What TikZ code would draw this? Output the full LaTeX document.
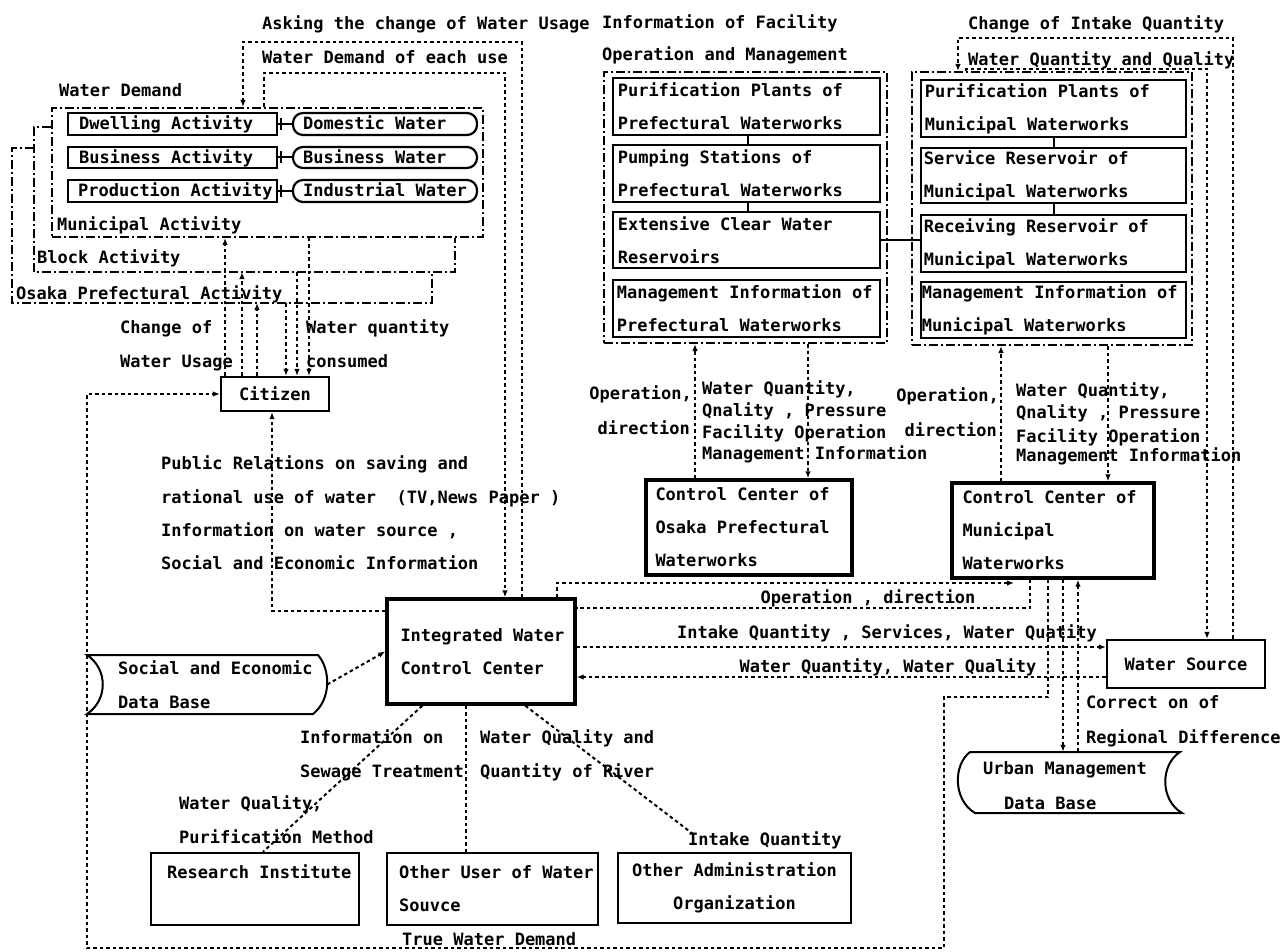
\documentclass[tikz,border=0pt]{standalone}
\usepackage{fontspec}
\newfontfamily\dmono{DejaVu Sans Mono}
\usetikzlibrary{arrows.meta,fit,calc}
\newcommand\txtfont{\dmono\bfseries\fontsize{17}{33}\selectfont}

\begin{document}
\begin{tikzpicture}[x=1pt,y=-1pt,
  txt/.style={font=\txtfont, inner sep=0pt},
  lbl/.style={txt, anchor=base west},
  lblr/.style={txt, anchor=base east},
  lblc/.style={txt, anchor=base},
  inbox/.style={txt, anchor=west, align=left},
  frame/.style={inner sep=0pt},
  sbox/.style={frame, draw, line width=2.2pt},
  gbox/.style={frame, draw, line width=2.8pt},
  tbox/.style={frame, draw, line width=3.4pt},
  rbox/.style={sbox, rounded corners=10pt},
  dashdot/.style={line width=2pt, dash pattern=on 9pt off 3pt on 2pt off 3pt},
  conn/.style={line width=2pt, dash pattern=on 3.5pt off 3pt},
  solidln/.style={line width=2pt},
  tip/.style={-{Latex[length=7pt,width=5.5pt]}},
]
\useasboundingbox[fill=white] (0,0) rectangle (1288,952);

% ---------------- headings along the top ----------------
\node[lbl] (tAsk) at (262,30) {Asking the change of Water Usage};
\node[lbl] (tInfo) at (602,29) {Information of Facility};
\node[lbl] (tChg) at (968,30) {Change of Intake Quantity};
\node[lbl] (tWde) at (262,64) {Water Demand of each use};
\node[lbl] (tOpm) at (602,61) {Operation and Management};
\node[lbl] (tWqq) at (968,66) {Water Quantity and Quality};
\node[lbl] (tWd) at (59,97) {Water Demand};

% ---------------- activities and water demand ----------------
\node[frame, draw, dashdot, fit={(52,108) (483,237)}] (mun) {};
\node[lbl] (tMun) at (57,231) {Municipal Activity};
\node[lbl] (tBlk) at (37,264) {Block Activity};
\node[lbl] (tOsk) at (16,299) {Osaka Prefectural Activity};

\node[sbox, fit={(68,113) (277,135)}] (dwell) {};
\node[sbox, fit={(68,147) (277,168)}] (busa) {};
\node[sbox, fit={(68,180) (277,202)}] (proda) {};
\node[rbox, fit={(293,113) (477,135)}] (dom) {};
\node[rbox, fit={(293,147) (477,168)}] (busw) {};
\node[rbox, fit={(293,180) (477,202)}] (ind) {};
\node[lbl] (dwellT) at ([xshift=12pt,yshift=-6pt]dwell.west) {Dwelling Activity};
\node[lbl] (busaT) at ([xshift=12pt,yshift=-6pt]busa.west) {Business Activity};
\node[lbl] (prodaT) at ([xshift=11pt,yshift=-6pt]proda.west) {Production Activity};
\node[lbl] (domT) at ([xshift=11pt,yshift=-6pt]dom.west) {Domestic Water};
\node[lbl] (buswT) at ([xshift=11pt,yshift=-6pt]busw.west) {Business Water};
\node[lbl] (indT) at ([xshift=11pt,yshift=-6pt]ind.west) {Industrial Water};
\foreach \a/\b in {dwell/dom, busa/busw, proda/ind}{
  \draw[solidln] (\a.east) -- (\b.west);
  \draw[solidln] ($(\a.east)+(3,-6)$) -- ++(0,12);
}

% block and prefectural brackets
\coordinate (blkTL) at (34,127);
\coordinate (blkBR) at (455,272);
\coordinate (osTL) at (12,148);
\coordinate (osBR) at (432,303);
\draw[dashdot] (mun.west |- blkTL) -- (blkTL) |- (blkBR) -- (blkBR |- mun.south);
\draw[dashdot] (blkTL |- osTL) -- (osTL) |- (osBR) -- (osBR |- blkBR);

% ---------------- citizen ----------------
\node[sbox, minimum width=108pt, minimum height=34pt, font=\txtfont] (cit) at (275,394) {Citizen};
\node[lbl] (tChU1) at (120,333) {Change of};
\node[lbl] (tChU2) at (120,367) {Water Usage};
\node[lbl] (tWqc1) at (306,333) {Water quantity};
\node[lbl] (tWqc2) at (306,367) {consumed};
\coordinate (v1) at (225,0);
\coordinate (v2) at (242,0);
\coordinate (v3) at (257,0);
\coordinate (v4) at (286,0);
\coordinate (v5) at (297,0);
\coordinate (v6) at (309,0);
\draw[conn,tip] (cit.north -| v1) -- (v1 |- mun.south);
\draw[conn,tip] (cit.north -| v2) -- (v2 |- blkBR);
\draw[conn,tip] (cit.north -| v3) -- (v3 |- osBR);
\draw[conn,tip] (v4 |- osBR) -- (cit.north -| v4);
\draw[conn,tip] (v5 |- blkBR) -- (cit.north -| v5);
\draw[conn,tip] (v6 |- mun.south) -- (cit.north -| v6);

\node[lbl] (pr1) at (161,469) {Public Relations on saving and};
\node[lbl] (pr2) at (161,503) {rational use of water\ \ (TV,News Paper )};
\node[lbl] (pr3) at (161,536) {Information on water source ,};
\node[lbl] (pr4) at (161,569) {Social and Economic Information};

% ---------------- prefectural waterworks ----------------
\node[frame, draw, dashdot, fit={(604,72) (887,343)}] (pgrp) {};
\node[gbox, fit={(613,78) (880,135)}] (pp1) {};
\node[gbox, fit={(613,145) (880,202)}] (pp2) {};
\node[gbox, fit={(613,212) (880,268)}] (pp3) {};
\node[gbox, fit={(613,280) (880,337)}] (pp4) {};
\node[inbox] (pp1T) at ([xshift=6pt]pp1.west) {Purification Plants of\\Prefectural Waterworks};
\node[inbox] (pp2T) at ([xshift=6pt]pp2.west) {Pumping Stations of\\Prefectural Waterworks};
\node[inbox] (pp3T) at ([xshift=6pt]pp3.west) {Extensive Clear Water\\Reservoirs};
\node[inbox] (pp4T) at ([xshift=5pt]pp4.west) {Management Information of\\Prefectural Waterworks};
\coordinate (gl) at (748,0);
\draw[solidln] (pp1.south -| gl) -- (pp2.north -| gl);
\draw[solidln] (pp2.south -| gl) -- (pp3.north -| gl);

% ---------------- municipal waterworks ----------------
\node[frame, draw, dashdot, fit={(912,72) (1192,345)}] (mgrp) {};
\node[gbox, fit={(921,80) (1186,137)}] (mp1) {};
\node[gbox, fit={(921,148) (1186,203)}] (mp2) {};
\node[gbox, fit={(921,215) (1186,272)}] (mp3) {};
\node[gbox, fit={(921,282) (1186,338)}] (mp4) {};
\node[inbox] (mp1T) at ([xshift=5pt]mp1.west) {Purification Plants of\\Municipal Waterworks};
\node[inbox] (mp2T) at ([xshift=4pt]mp2.west) {Service Reservoir of\\Municipal Waterworks};
\node[inbox] (mp3T) at ([xshift=4pt]mp3.west) {Receiving Reservoir of\\Municipal Waterworks};
\node[inbox] (mp4T) at ([xshift=2pt]mp4.west) {Management Information of\\Municipal Waterworks};
\coordinate (gr) at (1054,0);
\draw[solidln] (mp1.south -| gr) -- (mp2.north -| gr);
\draw[solidln] (mp2.south -| gr) -- (mp3.north -| gr);
\draw[solidln] (pp3.east) -- (pp3.east -| mp3.west);

% ---------------- control centres ----------------
\node[tbox, fit={(646,480) (852,575)}] (pcc) {};
\node[inbox] (pccT) at ([xshift=11pt]pcc.west) {Control Center of\\Osaka Prefectural\\Waterworks};
\node[tbox, fit={(952,483) (1154,578)}] (mcc) {};
\node[inbox] (mccT) at ([xshift=12pt]mcc.west) {Control Center of\\Municipal\\Waterworks};

\coordinate (p1) at (695,0);
\coordinate (p2) at (808,0);
\coordinate (m1) at (1001,0);
\coordinate (m2) at (1108,0);
\draw[conn,tip] (pcc.north -| p1) -- (pgrp.south -| p1);
\draw[conn,tip] (pgrp.south -| p2) -- (pcc.north -| p2);
\draw[conn,tip] (mcc.north -| m1) -- (mgrp.south -| m1);
\draw[conn,tip] (mgrp.south -| m2) -- (mcc.north -| m2);

\node[lblr] (po1) at (692,399) {Operation,};
\node[lblr] (po2) at (690,434) {direction};
\node[lbl] (pi1) at (702,394) {Water Quantity,};
\node[lbl] (pi2) at (702,416) {Qnality , Pressure};
\node[lbl] (pi3) at (702,438) {Facility Operation};
\node[lbl] (pi4) at (702,459) {Management Information};
\node[lblr] (mo1) at (999,401) {Operation,};
\node[lblr] (mo2) at (997,436) {direction};
\node[lbl] (mi1) at (1016,396) {Water Quantity,};
\node[lbl] (mi2) at (1016,418) {Qnality , Pressure};
\node[lbl] (mi3) at (1016,442) {Facility Operation};
\node[lbl] (mi4) at (1016,461) {Management Information};

% ---------------- integrated control centre ----------------
\node[tbox, fit={(387,599) (575,704)}] (icc) {};
\node[inbox] (iccT) at ([xshift=15pt]icc.west) {Integrated Water\\Control Center};

% water source
\node[sbox, fit={(1107,640) (1265,688)}] (ws) {};
\node[txt] (wsT) at (ws.center) {Water Source};

% data bases
\node[frame, fit={(87,655) (319,714)}] (sdb) {};
\draw[solidln] (87,655) -- (318,655) .. controls (331,670) and (331,700) .. (313,714)
  -- (87,714) .. controls (108,700) and (108,669) .. (87,655) -- cycle;
\node[lbl] (sdbT1) at (118,674) {Social and Economic};
\node[lbl] (sdbT2) at (118,708) {Data Base};

\node[frame, fit={(960,752) (1180,813)}] (udb) {};
\draw[solidln] (970,752) -- (1180,752) .. controls (1160,765) and (1160,800) .. (1182,813)
  -- (975,813) .. controls (953,800) and (953,765) .. (970,752) -- cycle;
\node[lbl] (udbT1) at (983,774) {Urban Management};
\node[lbl] (udbT2) at (1004,809) {Data Base};

% bottom organisations
\node[sbox, fit={(151,853) (359,925)}] (ri) {};
\node[lbl] (riT) at (167,878) {Research Institute};
\node[sbox, fit={(387,853) (598,925)}] (ou) {};
\node[inbox] (ouT) at ([xshift=13pt]ou.west) {Other User of Water\\Souvce};
\node[sbox, fit={(618,853) (851,923)}] (oa) {};
\node[txt, align=center] (oaT) at (oa.center) {Other Administration\\Organization};

% ---------------- flows around the top ----------------
\coordinate (askR) at (522,42);
\coordinate (askL) at (243,42);
\draw[conn,tip] (icc.north -| askR) -- (askR) -- (askL) -- (mun.north -| askL);
\coordinate (wdL) at (264,73);
\coordinate (wdR) at (505,73);
\draw[conn,tip] (mun.north -| wdL) -- (wdL) -- (wdR) -- (icc.north -| wdR);

\coordinate (ciR) at (1233,38);
\coordinate (ciL) at (958,38);
\draw[conn,tip] (ws.north -| ciR) -- (ciR) -- (ciL) -- (mgrp.north -| ciL);
\coordinate (wqL) at (966,69);
\coordinate (wqR) at (1207,69);
\draw[conn,tip] (mgrp.north -| wqL) -- (wqL) -- (wqR) -- (ws.north -| wqR);

% ---------------- flows around the integrated centre ----------------
\coordinate (prC) at (272,611);
\draw[conn,tip] (icc.west |- prC) -- (prC) -- (cit.south -| prC);

\coordinate (od1) at (557,583);
\coordinate (od1e) at (1014,583);
\draw[conn,tip] (icc.north -| od1) -- (od1) -- (od1e);
\coordinate (od2) at (1030,608);
\draw[conn] (mcc.south -| od2) -- (od2) -- (icc.east |- od2);
\node[lblc] (tOd) at (868,603) {Operation , direction};

\coordinate (iq) at (0,647);
\draw[conn,tip] (icc.east |- iq) -- (ws.west |- iq);
\node[lblc] (tIq) at (887,638) {Intake Quantity , Services, Water Quatity};
\coordinate (wq) at (0,677);
\draw[conn,tip] (ws.west |- wq) -- (icc.east |- wq);
\node[lblc] (tWq) at (888,672) {Water Quantity, Water Quality};

\coordinate (ud1) at (1063,0);
\coordinate (ud2) at (1078,0);
\draw[conn,tip] (mcc.south -| ud1) -- (udb.north -| ud1);
\draw[conn,tip] (udb.north -| ud2) -- (mcc.south -| ud2);
\node[lbl] (tCor1) at (1086,708) {Correct on of};
\node[lbl] (tCor2) at (1086,743) {Regional Difference};

\coordinate (tw1) at (1048,697);
\coordinate (tw2) at (944,948);
\coordinate (tw3) at (87,394);
\draw[conn,tip] (mcc.south -| tw1) -- (tw1) -| (tw2) -| (tw3) -- (cit.west |- tw3);
\node[lbl] (tTw) at (402,945) {True Water Demand};

\draw[conn,tip] ([xshift=8pt]sdb.east) -- (icc.west);

% links below the integrated centre
\node[lbl] (tIs1) at (300,743) {Information on};
\node[lbl] (tIs2) at (300,777) {Sewage Treatment};
\node[lbl] (tRq1) at (480,743) {Water Quality and};
\node[lbl] (tRq2) at (480,777) {Quantity of River};
\node[lbl] (tWp1) at (179,809) {Water Quality,};
\node[lbl] (tWp2) at (179,843) {Purification Method};
\node[lbl] (tIqa) at (688,845) {Intake Quantity};
\coordinate (vou) at (466,0);
\draw[conn] ([xshift=37pt]icc.south west) -- ([xshift=8pt]ri.north);
\draw[conn] (icc.south -| vou) -- (ou.north -| vou);
\draw[conn] ([xshift=140pt]icc.south west) -- ([xshift=5pt,yshift=-3pt]tIqa.north west);
\end{tikzpicture}
\end{document}
